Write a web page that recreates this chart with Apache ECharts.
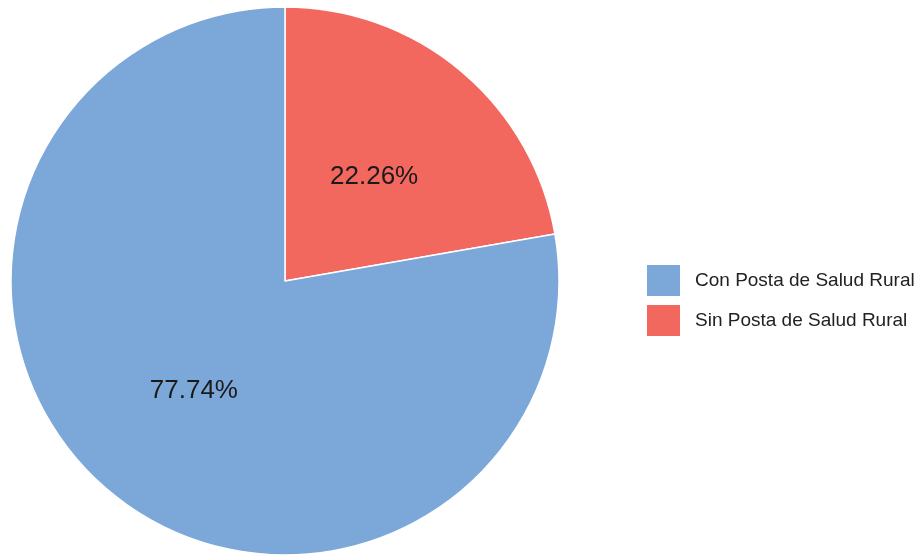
<!DOCTYPE html>
<html>
<head>
<meta charset="utf-8">
<script src="https://cdn.jsdelivr.net/npm/echarts@6/dist/echarts.min.js"></script>
<style>html,body{margin:0;padding:0;background:#fff;}#c{width:923px;height:555px;}</style>
</head>
<body>
<div id="c"></div>
<script>
const categories = ["Sin Posta de Salud Rural", "Con Posta de Salud Rural"];
const values = [22.26, 77.74];
const colors = ["#F2685F", "#7CA8D9"];
const legendOrder = ["Con Posta de Salud Rural", "Sin Posta de Salud Rural"];

const chart = echarts.init(document.getElementById('c'), null, {renderer: 'canvas'});
chart.setOption({
  animation: false,
  backgroundColor: '#fff',
  legend: {
    orient: 'vertical',
    left: 645,
    top: 263,
    padding: 0,
    itemWidth: 35,
    itemHeight: 33,
    itemGap: 5,
    icon: 'rect',
    data: legendOrder,
    textStyle: {fontFamily: 'Liberation Sans, Arial, sans-serif', fontSize: 19, color: '#222', padding: [3,0,0,9]}
  },
  series: [{
    type: 'pie',
    center: [285, 281],
    radius: [0, 274],
    startAngle: 90,
    clockwise: true,
    data: categories.map((c, i) => ({name: c, value: values[i], itemStyle: {color: colors[i]}})),
    itemStyle: {borderColor: '#fff', borderWidth: 1.5},
    label: {
      show: true,
      position: 'inside',
      offset: [-1, 3],
      formatter: p => p.value.toFixed(2) + '%',
      fontFamily: 'Liberation Sans, Arial, sans-serif',
      fontSize: 26,
      color: '#1a1a1a'
    },
    labelLine: {show: false},
    emphasis: {disabled: true}
  }]
});
</script>
</body>
</html>
